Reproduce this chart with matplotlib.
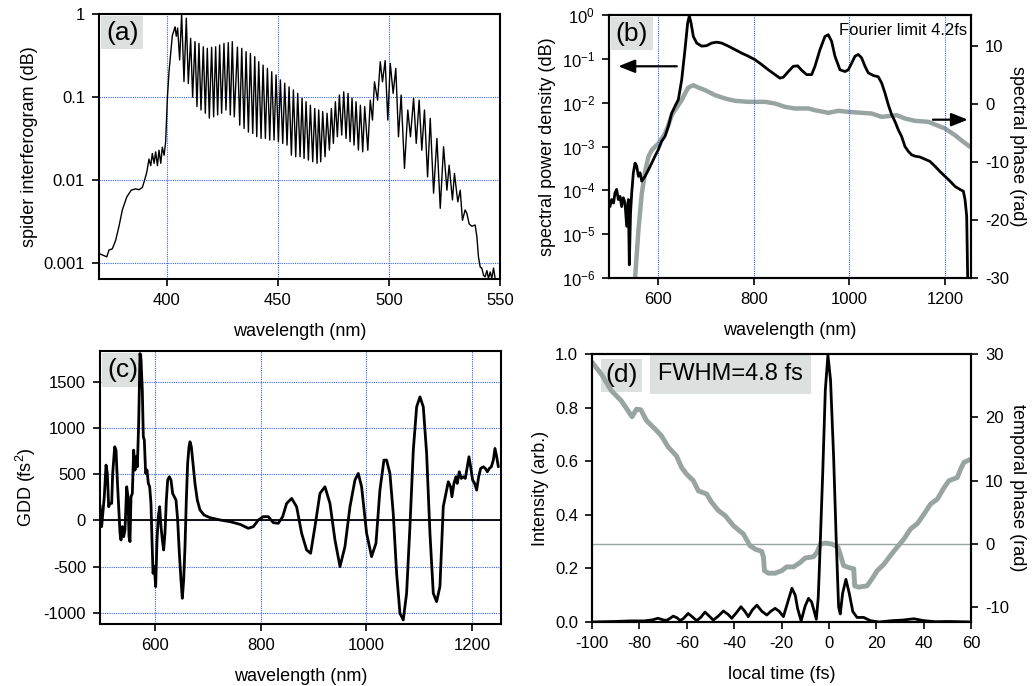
import numpy as np
import matplotlib
matplotlib.use("Agg")
import matplotlib.pyplot as plt
from matplotlib.ticker import NullLocator, FixedLocator, LogLocator

plt.rcParams['font.family'] = ['Liberation Sans', 'DejaVu Sans']
plt.rcParams['mathtext.fontset'] = 'custom'
plt.rcParams['mathtext.rm'] = 'Liberation Sans'
plt.rcParams['axes.unicode_minus'] = False

# ---------------- (a) spider interferogram ----------------
spider_wl = [370.0, 371.5, 373.0, 374.0, 375.5, 377.0, 378.5, 380.0, 382.0, 384.0, 386.0, 387.5,
             389.0, 390.0, 391.0, 392.0, 392.8, 393.5, 394.3, 395.0, 395.8, 396.5, 397.3, 398.0,
             398.8, 399.5, 400.3, 401.0, 401.8, 402.5, 403.3,
             403.7, 404.3, 404.9, 405.8, 406.7, 407.75, 408.8, 409.7, 410.75, 411.65,
             412.7, 413.6, 414.5, 415.4, 416.45, 417.35, 418.25, 419.15, 420.2, 421.1,
             422.0, 422.9, 423.8, 424.7, 425.75, 426.65, 427.7, 428.6, 429.5, 430.4,
             431.8, 432.85, 433.75, 434.8, 435.7, 436.75, 437.65, 438.7, 439.6, 440.5,
             441.4, 442.45, 443.35, 444.4, 445.3, 446.35, 447.25, 448.3, 449.2, 450.25,
             451.15, 452.2, 453.1, 454.15, 455.05, 456.1, 457.0, 458.05, 458.95, 460.0,
             460.9, 461.8, 462.7, 463.75, 464.65, 465.7, 466.6, 467.65, 468.4, 469.3,
             470.2, 471.25, 472.15, 473.2, 474.1, 475.0, 475.9, 476.8, 477.7, 478.75,
             479.65, 480.7, 481.6, 482.5, 483.4, 484.3, 485.2, 486.25, 487.15, 488.2,
             489.1, 490.5, 491.6, 492.6, 493.5, 494.9, 496.1, 497.1, 498.3, 499.5,
             500.6, 501.9, 503.1, 504.3, 505.5, 507.0, 508.5, 509.7, 511.1, 512.3,
             513.6, 514.8, 516.0, 517.4, 518.6, 520.1, 521.6, 523.1, 524.6, 526.1,
             527.1, 528.6, 529.5, 531.0, 532.1, 533.1, 534.3, 535.1, 536.1, 537.3,
             538.8, 539.6, 540.3, 541.1, 541.8, 542.6, 543.3, 544.1, 544.8, 545.6,
             546.3, 547.1, 547.8]
spider_val = [1.3e-3, 1.25e-3, 1.2e-3, 1.45e-3, 1.5e-3, 1.9e-3, 2.8e-3, 4.4e-3, 6.3e-3, 7.6e-3, 7.9e-3, 7.7e-3,
              8.2e-3, 1.0e-2, 1.25e-2, 1.8e-2, 1.5e-2, 2.1e-2, 1.6e-2, 2.2e-2, 1.5e-2, 2.3e-2, 1.6e-2, 2.5e-2,
              2.0e-2, 2.9e-2, 0.10, 0.20, 0.34, 0.55, 0.64,
              0.70, 0.54, 0.68, 0.28, 1.0, 0.154, 0.89, 0.146, 0.51, 0.10,
              0.465, 0.077, 0.443, 0.070, 0.404, 0.064, 0.386, 0.056, 0.397, 0.058,
              0.404, 0.061, 0.424, 0.064, 0.443, 0.070, 0.452, 0.061, 0.465, 0.058,
              0.40, 0.046, 0.386, 0.042, 0.352, 0.038, 0.336, 0.0366, 0.307, 0.0334,
              0.267, 0.0319, 0.243, 0.0319, 0.222, 0.0305, 0.202, 0.0305, 0.185, 0.0291,
              0.161, 0.0278, 0.147, 0.0265, 0.133, 0.0201, 0.122, 0.0192, 0.111, 0.0192,
              0.097, 0.0183, 0.088, 0.0175, 0.080, 0.0167, 0.073, 0.0160, 0.070, 0.0167,
              0.067, 0.0192, 0.064, 0.0231, 0.073, 0.0278, 0.088, 0.0334, 0.106, 0.035,
              0.116, 0.0319, 0.111, 0.0291, 0.097, 0.0265, 0.088, 0.0231, 0.080, 0.022,
              0.077, 0.023, 0.092, 0.053, 0.153, 0.092, 0.267, 0.153, 0.275, 0.053,
              0.255, 0.111, 0.222, 0.0334, 0.106, 0.0139, 0.070, 0.0334, 0.097, 0.0278,
              0.092, 0.023, 0.070, 0.0110, 0.0555, 0.0070, 0.0319, 0.0046, 0.0253, 0.0076,
              0.0152, 0.0058, 0.0121, 0.0055, 0.0076, 0.0033, 0.0044, 0.0040, 0.0030, 0.0028,
              0.0029, 0.0021, 0.0012, 0.0009, 0.00088, 0.00072, 0.00069, 0.00082, 0.00066, 0.00079,
              0.00066, 0.00088, 0.00066]

# ---------------- (b) spectrum and spectral phase ----------------
spec_wl = [499.6, 503, 507, 510, 513.5, 517, 520.6, 524, 527.5, 531, 534.5, 538, 540, 542.5, 545,
           548.4, 552, 555.4, 559, 562.4, 566, 573, 580, 586.8, 593.7, 600.7, 607.7, 614.6, 621.6,
           628.6, 635.5, 642.5, 649.5, 656.4, 662, 665.5, 669, 673.9, 680.8, 691.3, 701.7, 712.2,
           722.7, 733.1, 747, 761, 775, 788.9, 802.8, 816.7, 830.7, 844.6, 855, 862, 872.5, 882.9,
           892, 900.4, 910.8, 921.3, 928.2, 938.7, 949.1, 956, 963, 970, 980.5, 991, 997.9, 1004.9,
           1011.9, 1018.8, 1025.8, 1032.8, 1039.7, 1050.2, 1060.7, 1067.6, 1074.6, 1081.6, 1088.5,
           1095.5, 1102.5, 1109.4, 1116.4, 1123.4, 1130.3, 1137.3, 1147.8, 1158.2, 1168.7, 1179.1,
           1189.6, 1200, 1210.6, 1221, 1231.5, 1238.5, 1242, 1245.5, 1247.5, 1249]
spec_log10 = [-4.37, -4.21, -4.29, -4.06, -3.98, -4.21, -4.14, -4.37, -4.17, -4.29, -4.82, -4.21, -5.70,
              -4.52, -4.06, -3.60, -3.38, -3.45, -3.68, -3.60, -3.79, -3.68, -3.53, -3.38, -3.22, -3.07,
              -2.88, -2.77, -2.54, -2.24, -2.08, -1.93, -1.48, -0.79, -0.18, -0.02, -0.18, -0.49, -0.64,
              -0.71, -0.70, -0.64, -0.62, -0.64, -0.71, -0.79, -0.87, -0.94, -1.02, -1.13, -1.25, -1.36,
              -1.44, -1.42, -1.29, -1.17, -1.16, -1.26, -1.36, -1.36, -1.17, -0.79, -0.49, -0.45, -0.60,
              -0.94, -1.25, -1.29, -1.25, -1.10, -0.94, -0.90, -0.98, -1.17, -1.32, -1.38, -1.41, -1.55,
              -1.78, -2.05, -2.27, -2.43, -2.62, -2.77, -3.00, -3.11, -3.19, -3.22, -3.24, -3.29, -3.34,
              -3.45, -3.57, -3.68, -3.79, -3.91, -3.98, -4.02, -4.21, -4.59, -5.96, -6.04]
spec_val = [10.0 ** v for v in spec_log10]

sphase_wl = [552, 559, 566, 573, 580, 586.8, 593.7, 604, 614.6, 621.6, 628.6, 635.5, 642.5, 649.5,
             656.4, 663.4, 673.9, 684.3, 698.3, 719.2, 740, 761, 788.9, 823.7, 844.6, 865.5, 886.4,
             914.3, 928.2, 956, 977, 997.9, 1025.8, 1046.7, 1067.6, 1081.6, 1099, 1116.4, 1137.3,
             1165.2, 1182.6, 1200, 1221, 1238.5, 1252.5]
sphase = [-30.1, -21.8, -15.5, -11.7, -9.1, -8.0, -7.4, -6.55, -5.1, -3.7, -1.95, -1.1, -0.23, 0.63,
          1.78, 2.8, 3.2, 2.8, 2.36, 1.5, 0.92, 0.52, 0.34, 0.34, 0.06, -0.52, -0.8, -0.8, -1.1, -1.55,
          -1.2, -1.38, -1.55, -1.67, -2.24, -2.13, -1.95, -2.53, -2.93, -3.1, -3.68, -4.25, -5.4,
          -6.55, -7.4]

# ---------------- (c) GDD ----------------
gdd_wl = [495.9, 499, 502.2, 504, 507.3, 509.8, 512.3, 514.8, 518, 519.9, 523.7, 526.2, 528.7, 531.3,
          533.8, 535.6, 538.2, 540.7, 543.2, 546.4, 548.9, 550.8, 552.7, 554.6, 557.1, 559.6, 562.2,
          564, 566.6, 569.1, 571.6, 573.5, 576, 577.9, 579.8, 582.3, 584.9, 587.4, 589.9, 592.4,
          594.3, 596.3, 598.7, 601.3, 603.8, 606.3, 608.8, 611.4, 613.9, 616.4, 618.9, 621.5, 624,
          627.1, 630.3, 633.4, 636.6, 639.8, 642.9, 646.1, 649.2, 651.7, 654.3, 656.8, 659.3, 661.8,
          664.4, 666.3, 668.8, 671.9, 675.7, 680.1, 685.2, 692.7, 704.1, 723, 742, 760.9, 776.7,
          786.2, 795.6, 805, 814.5, 824, 833.4, 841.7, 849.2, 858.7, 868.1, 877.6, 887, 894.6,
          902.8, 912.3, 921.7, 931.2, 940.7, 950.2, 959.6, 969.1, 978.5, 984.8, 991.1, 1000.6,
          1010, 1018.3, 1025.8, 1033.4, 1038.4, 1044.7, 1051, 1057.4, 1063.7, 1070, 1076.3,
          1082.6, 1089, 1095.3, 1101.6, 1107.9, 1114.2, 1120.5, 1126.8, 1133.1, 1139.4, 1145.7,
          1152, 1155.2, 1159.6, 1162.1, 1165.9, 1169.7, 1172.2, 1176, 1179.8, 1183.6, 1187.4,
          1191.2, 1194.4, 1197.5, 1201.3, 1205.1, 1208.9, 1212.7, 1216.5, 1221.5, 1225.3, 1229.1,
          1232.9, 1236.7, 1240.5, 1243.6, 1246.8, 1250]
gdd = [165, -68, 147, 255, 597, 507, 147, 183, 183, 507, 795, 759, 435, 147, -140, -212, -68, -176,
       -104, 363, 255, -176, -230, 255, 291, 759, 543, 687, 579, 1047, 1802, 1730, 1406, 903, 867,
       507, 543, 399, 363, 183, -212, -572, -500, -716, -212, 40, 147, -68, -212, -320, -140, 219,
       435, 471, 435, 291, 255, 219, 4, -356, -644, -842, -644, -284, 219, 615, 795, 849, 795, 615,
       399, 219, 112, 58, 29, 4, -14, -43, -86, -68, 4, 40, 40, -25, -32, 40, 183, 237, 147, -140,
       -320, -356, -68, 291, 363, 183, -212, -500, -284, 147, 435, 507, 363, -140, -392, -248, 327,
       651, 651, 507, 76, -572, -1004, -1076, -788, -68, 759, 1227, 1334, 1227, 723, -140, -788,
       -878, -716, 147, 327, 417, 363, 255, 399, 471, 399, 525, 453, 471, 453, 579, 687, 579, 435,
       399, 327, 471, 561, 579, 561, 525, 561, 579, 651, 777, 687, 579]

# ---------------- (d) temporal intensity and phase ----------------
t_int = [-100, -90, -84, -78, -74.5, -72.1, -70, -68.5, -67, -65.7, -64, -62.9, -61.5, -59.4, -57.5,
         -55.8, -54, -52.3, -50.5, -48.8, -46.7, -44.5, -42.5, -41, -39, -37.1, -35.5, -34, -32.3,
         -30.4, -28.3, -26.2, -24.5, -22.7, -21, -19.2, -17.5, -15.6, -14.2, -13.2, -11.7, -10,
         -8.6, -7.3, -6.2, -5.3, -4.5, -4.1, -2.6, -1.5, -0.4, 0.7, 2.0, 3.1, 4.1, 4.8, 5.8, 7.2,
         8.6, 10.1, 11.9, 14.7, 17.5, 21.1, 26.7, 30.9, 35.9, 40.1, 45.1, 50.7, 60]
intensity = [0.0, 0.002, 0.004, 0.004, 0.008, 0.014, 0.008, 0.006, 0.014, 0.022, 0.015, 0.006, 0.012,
             0.032, 0.018, 0.005, 0.018, 0.037, 0.022, 0.007, 0.022, 0.041, 0.028, 0.014, 0.035, 0.057,
             0.040, 0.020, 0.045, 0.063, 0.040, 0.026, 0.040, 0.051, 0.040, 0.020, 0.070, 0.126, 0.100,
             0.050, 0.004, 0.060, 0.088, 0.075, 0.040, 0.010, 0.090, 0.18, 0.555, 0.866, 0.996, 0.903,
             0.617, 0.306, 0.057, 0.03, 0.107, 0.159, 0.107, 0.039, 0.017, 0.017, 0.005, 0.0, 0.005,
             0.007, 0.012, 0.005, 0.001, 0.002, 0.0]

t_ph = [-100, -96, -91.8, -87.6, -84.8, -83.1, -81.2, -79.4, -77, -73.5, -70.7, -67.8, -64.3, -62.2,
        -60.1, -57.2, -55.1, -51.6, -49.5, -46.7, -43.8, -40.3, -36.1, -33.3, -31.1, -28.3, -27.6,
        -27.2, -25.5, -22.7, -19.9, -17.8, -14.9, -12.1, -10, -6.5, -5.0, -3.6, -1.5, 1.3, 3.8, 4.8,
        6.2, 8.4, 10.5, 10.9, 12.6, 16.1, 18.2, 20.4, 23.2, 26.0, 28.8, 31.7, 34.5, 37.3, 40.1,
        42.9, 45.8, 48.6, 50.7, 54.2, 55.6, 57.0, 60]
tphase = [28.7, 26.8, 24.2, 22.6, 21.05, 20.1, 21.3, 21.2, 19.5, 18.2, 17.1, 15.3, 13.9, 12.1, 11.05,
          10, 8.4, 7.9, 6.6, 5.3, 4.5, 2.9, 1.6, -0.26, -0.8, -1.16, -2.1, -4.2, -4.6, -4.6, -4.2,
          -3.6, -3.6, -2.9, -2.2, -2.0, -1.3, 0, 0.16, 0, -0.5, -1.6, -3.4, -3.7, -3.9, -6.6, -6.8,
          -6.6, -5.5, -4.2, -3.2, -1.8, -0.5, 0.8, 2.4, 3.2, 4.7, 6.3, 7.1, 8.9, 10, 10.5, 11.8,
          12.9, 13.4]

# ---------------- styling ----------------
W, H = 1032, 686
GRID = dict(color='#3563e6', linestyle=(0, (1, 1)), linewidth=0.8)
GREY = '#98a4a2'
BOX = dict(facecolor='#dce1df', edgecolor='none', boxstyle='square,pad=0.18')
TICK_FS = 12
LAB_FS = 13
LINE_KW = dict(solid_joinstyle='round', solid_capstyle='round')


def px_axes(fig, left, top, right, bottom):
    return fig.add_axes([left / W, 1 - bottom / H, (right - left) / W, (bottom - top) / H])


def style(ax):
    for s in ax.spines.values():
        s.set_linewidth(1.5)
        s.set_color('black')
    ax.tick_params(direction='out', length=5, width=1.2, labelsize=TICK_FS, pad=5)


fig = plt.figure(figsize=(W / 100, H / 100), dpi=100)

# (a)
axa = px_axes(fig, 99, 14, 500, 279)
style(axa)
axa.semilogy(spider_wl, spider_val, color='black', lw=1.0, zorder=3, **LINE_KW)
axa.set_xlim(369.5, 550)
axa.set_ylim(6.5e-4, 1.0)
axa.yaxis.set_major_locator(FixedLocator([1e-3, 1e-2, 1e-1, 1]))
axa.set_yticklabels(['0.001', '0.01', '0.1', '1'])
axa.yaxis.set_minor_locator(NullLocator())
axa.set_xticks([400, 450, 500, 550])
axa.grid(True, which='major', **GRID)
axa.set_axisbelow(True)
axa.set_xlabel('wavelength (nm)', fontsize=LAB_FS, labelpad=11)
axa.set_ylabel('spider interferogram (dB)', fontsize=LAB_FS)
axa.text(0.018, 0.975, '(a)', transform=axa.transAxes, fontsize=19, va='top', ha='left',
         bbox=BOX, zorder=1)

# (b)
axb = px_axes(fig, 609, 15, 971, 278)
style(axb)
axb2 = axb.twinx()
style(axb2)
axb.set_zorder(axb2.get_zorder() + 1)
axb.patch.set_visible(False)
axb.semilogy(spec_wl, spec_val, color='black', lw=2.0, zorder=3, **LINE_KW)
axb.set_xlim(497.5, 1254.5)
axb.set_ylim(1e-6, 1.0)
axb.yaxis.set_major_locator(LogLocator(base=10, numticks=10))
axb.yaxis.set_minor_locator(NullLocator())
axb.set_xticks([600, 800, 1000, 1200])
axb.xaxis.grid(True, **GRID)
axb.set_xlabel('wavelength (nm)', fontsize=LAB_FS, labelpad=11)
axb.set_ylabel('spectral power density (dB)', fontsize=LAB_FS)
axb2.plot(sphase_wl, sphase, color=GREY, lw=3.2, zorder=2, **LINE_KW)
axb2.set_ylim(-30, 15.3)
axb2.set_yticks([-30, -20, -10, 0, 10])
axb2.set_ylabel('spectral phase (rad)', fontsize=LAB_FS, rotation=270, labelpad=12)
axb2.text(0.018, 0.975, '(b)', transform=axb2.transAxes, fontsize=19, va='top', ha='left',
          bbox=BOX, zorder=1)
axb.text(0.99, 0.97, 'Fourier limit 4.2fs', transform=axb.transAxes, fontsize=12,
         va='top', ha='right')
axb.annotate('', xy=(0.018, 0.805), xytext=(0.195, 0.805), xycoords='axes fraction',
             arrowprops=dict(arrowstyle='-|>,head_length=1.0,head_width=0.4', color='black', lw=1.6))
axb.annotate('', xy=(0.999, 0.602), xytext=(0.887, 0.602), xycoords='axes fraction',
             arrowprops=dict(arrowstyle='-|>,head_length=1.0,head_width=0.4', color='black', lw=1.6))

# (c)
axc = px_axes(fig, 100, 351, 501, 624)
style(axc)
axc.plot(gdd_wl, gdd, color='black', lw=2.0, zorder=3, **LINE_KW)
axc.axhline(0, color='black', lw=1.3, zorder=2)
axc.set_xlim(495.9, 1255)
axc.set_ylim(-1120, 1830)
axc.set_xticks([600, 800, 1000, 1200])
axc.set_yticks([-1000, -500, 0, 500, 1000, 1500])
axc.grid(True, **GRID)
axc.set_axisbelow(True)
axc.set_xlabel('wavelength (nm)', fontsize=LAB_FS, labelpad=11)
axc.set_ylabel('GDD (fs$^2$)', fontsize=LAB_FS)
axc.text(0.018, 0.975, '(c)', transform=axc.transAxes, fontsize=19, va='top', ha='left',
         bbox=BOX, zorder=1)

# (d)
axd = px_axes(fig, 592, 354, 971, 622)
style(axd)
axd2 = axd.twinx()
style(axd2)
axd.set_zorder(axd2.get_zorder() + 1)
axd.patch.set_visible(False)
axd.plot(t_int, intensity, color='black', lw=2.0, zorder=3, **LINE_KW)
axd.set_xlim(-100, 60)
axd.set_ylim(0, 1.0)
axd.set_xticks([-100, -80, -60, -40, -20, 0, 20, 40, 60])
axd.set_yticks([0.0, 0.2, 0.4, 0.6, 0.8, 1.0])
axd.set_yticklabels(['0.0', '0.2', '0.4', '0.6', '0.8', '1.0'])
axd.set_xlabel('local time (fs)', fontsize=LAB_FS, labelpad=11)
axd.set_ylabel('Intensity (arb.)', fontsize=LAB_FS)
axd2.axhline(0, color=GREY, lw=1.0, zorder=1)
axd2.plot(t_ph, tphase, color=GREY, lw=3.5, zorder=2, **LINE_KW)
axd2.set_ylim(-12.3, 30)
axd2.set_yticks([-10, 0, 10, 20, 30])
axd2.set_ylabel('temporal phase (rad)', fontsize=LAB_FS, rotation=270, labelpad=12)
axd2.text(0.035, 0.965, '(d)', transform=axd2.transAxes, fontsize=19, va='top', ha='left',
          bbox=BOX, zorder=0.5)
axd2.text(0.175, 0.965, 'FWHM=4.8 fs', transform=axd2.transAxes, fontsize=17, va='top', ha='left',
          bbox=dict(facecolor='#dce1df', edgecolor='none', boxstyle='square,pad=0.35'), zorder=0.5)

fig.savefig('out.png', dpi=100)
